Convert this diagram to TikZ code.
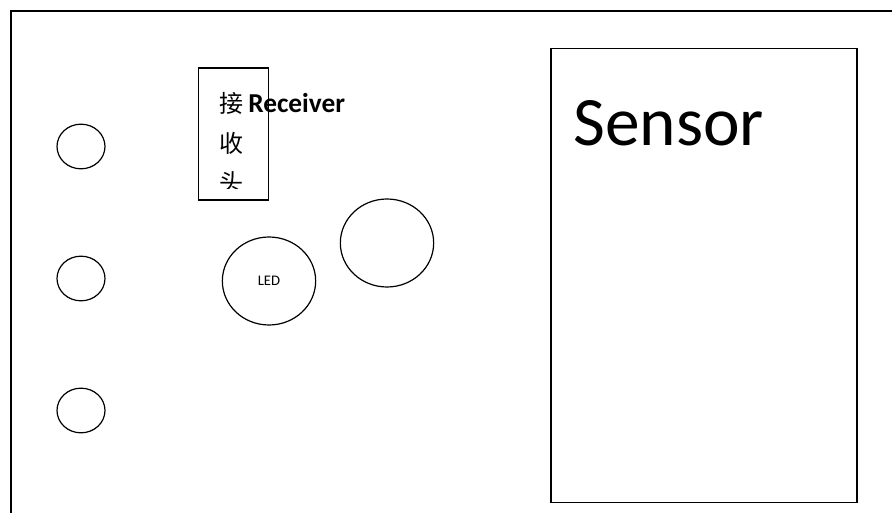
\documentclass[tikz,border=0pt]{standalone}
\usepackage{fontspec}
\setmainfont{Carlito}
\newfontfamily\cjk{Noto Sans CJK SC}
\usetikzlibrary{shapes.geometric}
\tikzset{
  frameline/.style={draw=black,line width=1.1pt},
  boxline/.style={draw=black,line width=0.9pt},
  hole/.style={ellipse,draw=black,line width=0.9pt,inner sep=0pt,
    minimum width=36pt,minimum height=33.5pt},
  bigc/.style={ellipse,draw=black,line width=0.9pt,inner sep=0pt,
    minimum width=70pt,minimum height=66pt},
  cjkchar/.style={font=\cjk\fontsize{18}{18}\selectfont,inner sep=0pt}
}
\begin{document}
\begin{tikzpicture}[x=0.75pt,y=-0.75pt]
  \useasboundingbox (0,0) rectangle (892,513);
  % outer frame (runs off the page right and bottom)
  \coordinate (F1) at (11,513);
  \coordinate (F2) at (11,11);
  \coordinate (F3) at (892,11);
  \draw [frameline] (F1) -- (F2) -- (F3);
  % three holes on the left
  \node (H1) at (81,146.5) [hole] {};
  \node (H2) at (81,278.5) [hole] {};
  \node (H3) at (81,410.5) [hole] {};
  % receiver
  \node (Rx) at (233.5,134) [boxline,inner sep=0pt,minimum width=53pt,minimum height=99pt] {};
  \begin{scope}
    \clip (199,69) rectangle (268,189);
    \node (Rx1) at (231,103) [cjkchar] {接};
    \node (Rx2) at (231,143) [cjkchar] {收};
    \node (Rx3) at (231,182) [cjkchar] {头};
  \end{scope}
  \node (RxL) at (248,113) [anchor=base west,inner sep=0pt,font=\bfseries\fontsize{20.5}{20.5}\selectfont] {Receiver};
  % LED and the round part beside it
  \node (LED) at (269,281) [bigc,font=\fontsize{11}{11}\selectfont] {LED};
  \node (C1) at (387,243) [bigc] {};
  % sensor
  \node (S) at (704,275.5) [boxline,inner sep=0pt,minimum width=229.5pt,minimum height=340pt] {};
  \node (SL) at (573,146) [anchor=base west,inner sep=0pt,font=\fontsize{52}{52}\selectfont] {Sensor};
\end{tikzpicture}
\end{document}
